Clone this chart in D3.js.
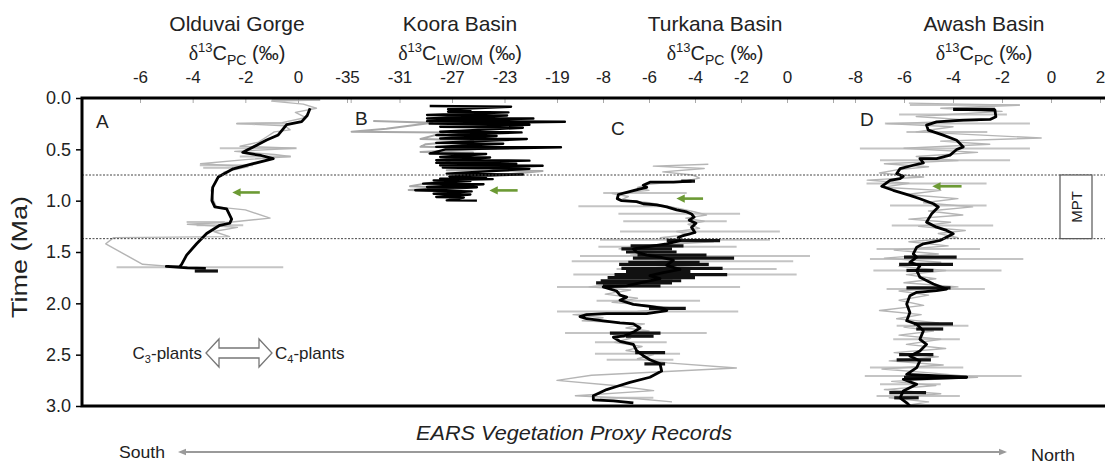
<!DOCTYPE html>
<html>
<head>
<meta charset="utf-8">
<script src="https://cdn.jsdelivr.net/npm/d3@7/dist/d3.min.js"></script>
<style>
  body { margin: 0; background: #fff; }
  text { font-family: "Liberation Sans", Arial, sans-serif; fill: #222; }
</style>
</head>
<body>
<div id="container"></div>
<script>
// ---- data (age in Ma, d13C in permil) ----
var siteNames = ["Olduvai Gorge", "Koora Basin", "Turkana Basin", "Awash Basin"];
var proxySubs = ["PC", "LW/OM", "PC", "PC"];
var panelLetters = ["A", "B", "C", "D"];
var timeTicks = [0, 0.5, 1, 1.5, 2, 2.5, 3];
var mptBounds = [0.75, 1.37];

var oldTicks = [-6, -4, -2, 0, 2];
var oldLabels = [-6, -4, -2, 0];
var kooraTicks = [-35, -31, -27, -23, -19];
var kooraLabels = [-35, -31, -27, -23, -19];
var turkTicks = [-8, -6, -4, -2, 0, 2];
var turkLabels = [-8, -6, -4, -2, 0];
var awashTicks = [-8, -6, -4, -2, 0, 2];
var awashLabels = [-8, -6, -4, -2, 0, 2];

// Olduvai
var oldSmooth = [[0.10,0.46],[0.17,0.35],[0.23,0.14],[0.26,-0.43],[0.36,-0.75],[0.41,-1.19],[0.46,-1.57],[0.51,-1.95],[0.53,-2.1],[0.56,-1.4],[0.59,-0.94],[0.64,-1.7],[0.69,-2.46],[0.77,-3.03],[0.87,-3.24],[1.0,-3.27],[1.06,-3.16],[1.08,-2.71],[1.18,-2.52],[1.22,-2.59],[1.24,-2.97],[1.32,-3.47],[1.42,-3.85],[1.53,-4.23],[1.62,-4.42],[1.645,-4.5],[1.64,-5.0],[1.655,-4.2],[1.66,-3.5]];
var oldRaw = [[0.02,0.84],[0.03,-1.0],[0.06,0.2],[0.10,0.7],[0.14,-0.1],[0.19,0.3],[0.24,-0.6],[0.25,-2.33],[0.27,-0.5],[0.31,-0.3],[0.33,-0.9],[0.38,-1.2],[0.43,-1.5],[0.47,-2.2],[0.49,-0.1],[0.52,-2.4],[0.55,-0.9],[0.57,-0.3],[0.60,-2.0],[0.64,-3.7],[0.67,-1.9],[0.72,-2.8],[0.80,-3.1],[0.90,-3.3],[1.00,-3.2],[1.06,-3.1],[1.09,-2.0],[1.17,-1.06],[1.21,-2.6],[1.23,-4.2],[1.26,-2.3],[1.30,-3.2],[1.35,-2.6],[1.36,-7.0],[1.42,-7.3],[1.52,-6.6],[1.62,-5.9],[1.645,-4.6]];
var oldBars = [[0.02,-1.0,0.84],[0.248,-2.33,-0.43],[0.49,-2.97,-0.05],[0.57,-2.21,-0.27],[0.655,-3.73,-1.70],[0.68,-3.6,-2.46],[1.209,-4.23,-2.78],[1.24,-3.85,-2.08],[1.649,-6.89,-0.56]];
var oldBlackBars = [[1.685,-3.92,-3.04]];

// Koora
var kooraBlack = [[0.078,-28.7],[0.085,-22.5],[0.11,-27.3],[0.12,-25.6],[0.134,-27.3],[0.14,-22.7],[0.166,-28.9],[0.17,-22.8],[0.199,-28.9],[0.2,-20.8],[0.225,-28.9],[0.232,-18.4],[0.25,-28.7],[0.26,-21.1],[0.28,-27.9],[0.29,-21.6],[0.329,-27.9],[0.335,-21.7],[0.362,-28.2],[0.37,-23.6],[0.394,-27.9],[0.40,-21.3],[0.437,-28.2],[0.445,-23.1],[0.476,-28.2],[0.48,-18.7],[0.50,-27.5],[0.541,-28.7],[0.545,-24.4],[0.574,-27.9],[0.58,-24.1],[0.606,-28.2],[0.61,-21.1],[0.632,-28.2],[0.64,-22.1],[0.655,-27.9],[0.66,-20.1],[0.678,-27.7],[0.69,-21.1],[0.737,-27.4],[0.745,-21.6],[0.763,-27.2],[0.77,-24.4],[0.785,-27.9],[0.79,-23.9],[0.802,-28.4],[0.81,-25.6],[0.834,-29.2],[0.84,-24.6],[0.867,-28.9],[0.87,-25.1],[0.899,-29.8],[0.91,-25.5],[0.932,-28.4],[0.94,-25.6],[0.964,-28.2],[0.97,-26.1],[0.997,-27.4],[1.0,-25.1]];
var kooraGray = [[0.225,-33.0],[0.24,-28.5],[0.30,-32.0],[0.329,-34.65],[0.335,-27.5],[0.40,-29.4],[0.411,-25.4],[0.45,-29.0],[0.476,-29.4],[0.49,-23.6],[0.525,-29.4],[0.53,-25.4],[0.60,-27.0],[0.655,-27.9],[0.66,-20.1],[0.704,-27.4],[0.71,-20.1],[0.80,-27.5],[0.86,-30.2],[0.875,-26.9],[0.895,-30.3],[0.91,-27.0]];

// Turkana
var turkSmooth = [[0.81,-4.15],[0.82,-4.94],[0.82,-5.96],[0.85,-6.25],[0.87,-6.10],[0.89,-6.47],[0.92,-6.97],[0.94,-7.33],[0.98,-7.38],[1.00,-7.19],[1.01,-6.54],[1.03,-6.25],[1.04,-5.67],[1.06,-5.23],[1.09,-4.80],[1.11,-4.36],[1.13,-4.15],[1.16,-4.04],[1.19,-4.25],[1.22,-3.96],[1.26,-4.15],[1.31,-4.0],[1.34,-4.51],[1.36,-4.73],[1.39,-4.65],[1.42,-5.23],[1.45,-6.10],[1.47,-6.68],[1.50,-6.54],[1.53,-6.10],[1.55,-5.52],[1.58,-4.94],[1.63,-5.23],[1.67,-4.65],[1.70,-5.38],[1.73,-5.96],[1.76,-5.52],[1.80,-6.39],[1.83,-6.97],[1.84,-7.99],[1.88,-7.41],[1.92,-7.26],[1.94,-6.97],[1.97,-7.26],[2.01,-6.68],[2.03,-5.96],[2.05,-5.38],[2.07,-5.23],[2.10,-6.10],[2.10,-7.12],[2.10,-7.84],[2.11,-8.71],[2.13,-9.0],[2.15,-8.71],[2.17,-7.99],[2.19,-7.26],[2.20,-6.68],[2.24,-6.39],[2.28,-6.68],[2.32,-7.12],[2.33,-7.55],[2.37,-7.26],[2.40,-6.68],[2.46,-6.54],[2.51,-6.25],[2.55,-5.96],[2.59,-5.52],[2.66,-5.45],[2.72,-5.96],[2.77,-6.83],[2.81,-7.41],[2.84,-7.84],[2.90,-8.42],[2.94,-8.42],[2.95,-7.55],[2.97,-6.68]];
var turkRaw = [[0.645,-3.42],[0.664,-5.81],[0.687,-3.6],[0.72,-5.4],[0.75,-4.1],[0.78,-3.8],[0.81,-4.5],[0.84,-6.0],[0.87,-6.5],[0.90,-6.0],[0.93,-7.6],[0.96,-6.9],[0.99,-7.2],[1.02,-6.0],[1.05,-5.3],[1.08,-4.6],[1.11,-4.0],[1.14,-3.5],[1.17,-4.4],[1.20,-3.6],[1.23,-4.3],[1.27,-3.8],[1.30,-4.8],[1.33,-4.2],[1.36,-5.5],[1.40,-3.2],[1.44,-6.5],[1.47,-7.3],[1.50,-5.5],[1.53,-6.8],[1.56,-4.3],[1.60,-6.0],[1.63,-4.0],[1.66,-6.3],[1.70,-4.5],[1.74,-6.8],[1.77,-5.0],[1.81,-7.5],[1.84,-8.6],[1.87,-6.8],[1.91,-7.9],[1.95,-6.5],[1.99,-7.6],[2.02,-6.0],[2.05,-4.8],[2.08,-6.5],[2.11,-9.3],[2.14,-8.0],[2.17,-8.9],[2.20,-6.2],[2.24,-7.0],[2.27,-6.0],[2.30,-7.6],[2.34,-6.8],[2.38,-7.5],[2.42,-6.3],[2.46,-7.0],[2.50,-5.8],[2.54,-6.5],[2.58,-5.2],[2.63,-2.2],[2.70,-8.5],[2.75,-10.0],[2.80,-7.5],[2.85,-5.8],[2.90,-9.2],[2.93,-6.5],[2.96,-5.0]];
var turkBars = [[0.925,-7.99,-4.36],[1.055,-9.07,-5.52],[1.127,-7.33,-2.04],[1.2,-7.12,-2.62],[1.3,-7.26,-0.31],[1.38,-8.13,-0.74],[1.45,-8.2,-2.19],[1.54,-9.0,1.0],[1.59,-9.36,0.27],[1.665,-7.41,-0.45],[1.72,-9.29,0.42],[1.84,-10.0,-2.04],[1.974,-8.28,-3.78],[2.08,-10.0,-2.12],[2.29,-9.65,-3.49],[2.38,-8.35,-5.23],[2.49,-8.35,-4.65],[2.55,-7.84,-4.94],[2.92,-8.13,-5.81]];
var turkBlackBars = [[0.81,-4.6,-4.0],[1.39,-5.23,-2.91],[1.44,-6.8,-4.5],[1.47,-7.2,-5.0],[1.50,-7.0,-4.8],[1.53,-6.5,-3.5],[1.56,-6.7,-2.3],[1.60,-6.9,-3.8],[1.62,-7.3,-3.4],[1.66,-7.2,-2.8],[1.69,-7.0,-4.2],[1.72,-7.5,-2.6],[1.75,-7.8,-4.0],[1.78,-8.1,-4.6],[1.80,-8.3,-5.0],[1.83,-8.0,-5.5],[2.05,-6.0,-4.4],[2.29,-7.7,-5.5],[2.32,-7.0,-5.8],[2.48,-6.6,-5.3],[2.59,-6.2,-5.3]];

// Awash
var awashSmooth = [[0.111,-3.99],[0.117,-2.29],[0.183,-2.25],[0.209,-2.49],[0.215,-3.58],[0.232,-4.67],[0.264,-5.08],[0.313,-5.01],[0.362,-4.40],[0.411,-3.85],[0.476,-3.58],[0.502,-3.85],[0.557,-4.12],[0.59,-4.67],[0.59,-5.35],[0.632,-5.21],[0.655,-5.62],[0.688,-6.16],[0.737,-6.30],[0.763,-6.03],[0.785,-6.16],[0.802,-6.57],[0.86,-6.91],[0.899,-6.44],[0.948,-5.76],[0.981,-5.35],[1.03,-4.80],[1.062,-4.60],[1.128,-4.87],[1.209,-5.08],[1.258,-4.67],[1.29,-4.26],[1.323,-3.99],[1.388,-4.53],[1.42,-5.21],[1.453,-5.48],[1.519,-5.62],[1.551,-5.48],[1.60,-5.76],[1.633,-5.35],[1.681,-5.48],[1.747,-5.35],[1.812,-4.80],[1.861,-4.26],[1.877,-4.67],[1.893,-5.48],[1.926,-5.76],[2.007,-5.89],[2.089,-5.76],[2.17,-5.89],[2.203,-5.48],[2.268,-5.21],[2.35,-5.35],[2.399,-5.08],[2.464,-5.35],[2.513,-5.76],[2.561,-5.35],[2.626,-5.48],[2.692,-5.89],[2.72,-3.44],[2.74,-6.03],[2.789,-5.48],[2.855,-6.03],[2.92,-6.16],[2.969,-5.89],[3.0,-5.76]];
var awashRaw = [[0.05,-5.8],[0.07,-1.3],[0.10,-4.5],[0.13,-2.0],[0.18,-5.5],[0.22,-3.0],[0.25,-6.7],[0.28,-4.0],[0.33,-5.5],[0.39,-0.4],[0.42,-4.5],[0.45,-2.5],[0.49,-6.0],[0.53,-3.0],[0.57,-5.5],[0.61,-3.8],[0.64,-6.8],[0.67,-5.0],[0.70,-6.3],[0.73,-7.0],[0.77,-5.2],[0.80,-7.5],[0.83,-5.8],[0.87,-6.9],[0.90,-4.5],[0.94,-5.9],[0.98,-3.8],[1.02,-5.2],[1.06,-3.2],[1.10,-5.0],[1.14,-3.6],[1.18,-5.8],[1.21,-4.1],[1.25,-5.4],[1.29,-3.5],[1.32,-4.6],[1.36,-3.8],[1.40,-5.8],[1.44,-4.2],[1.48,-6.4],[1.52,-4.6],[1.56,-6.8],[1.60,-4.5],[1.64,-6.2],[1.68,-4.3],[1.72,-5.9],[1.76,-4.7],[1.80,-6.0],[1.84,-3.8],[1.88,-6.2],[1.92,-5.0],[1.97,-6.2],[2.02,-5.2],[2.07,-7.0],[2.11,-5.3],[2.15,-6.3],[2.19,-4.6],[2.23,-6.0],[2.27,-4.8],[2.31,-6.2],[2.35,-4.5],[2.40,-5.9],[2.44,-4.3],[2.48,-6.4],[2.52,-4.6],[2.56,-6.6],[2.60,-4.4],[2.64,-6.9],[2.68,-4.8],[2.72,-3.0],[2.76,-6.5],[2.80,-4.7],[2.84,-6.8],[2.88,-4.5],[2.92,-6.6],[2.96,-5.0],[3.0,-6.0]];
var awashBars = [[0.069,-5.76,-1.27],[0.16,-6.2,-1.8],[0.248,-6.78,-0.86],[0.33,-5.9,-2.6],[0.492,-7.8,-0.86],[0.606,-6.98,-1.67],[0.834,-7.53,-2.63],[1.046,-6.57,-2.63],[1.242,-6.50,-2.36],[1.47,-7.12,-2.90],[1.567,-7.39,-1.13],[1.681,-7.25,-2.02],[1.861,-6.71,-2.70],[2.219,-6.30,-3.37],[2.35,-6.44,-3.72],[2.626,-7.39,-3.58],[2.708,-7.6,-1.2],[2.789,-6.98,-4.5],[2.903,-7.12,-3.72]];
var awashBlackBars = [[0.111,-3.99,-2.29],[1.55,-6.0,-3.85],[1.62,-6.2,-4.0],[1.68,-5.9,-4.8],[1.85,-5.9,-4.1],[2.2,-5.6,-4.0],[2.25,-5.5,-4.4],[2.5,-6.2,-4.8],[2.55,-6.3,-4.9],[2.72,-6.0,-3.44],[2.87,-6.6,-5.1],[2.92,-6.4,-5.4]];

// green arrows: [age, tip value, tail value]
var oldArrow = [0.92, -2.47, -1.45];
var kooraArrow = [0.90, -24.1, -22.0];
var turkArrow = [0.98, -4.78, -3.65];
var awashArrow = [0.86, -4.82, -3.65];

// ---- layout ----
var width = 1105, height = 464;
var frameLeft = 82, frameTop = 98, frameBottom = 406, frameRight = 1105;

var svg = d3.select("#container").append("svg")
  .attr("width", width).attr("height", height);

var y = d3.scaleLinear().domain([0, 3]).range([frameTop, frameBottom]);

var panels = [
  { x: d3.scaleLinear().domain([-6, 0]).range([140, 298]), ticks: oldTicks, labels: oldLabels,
    smooth: oldSmooth, raw: [oldRaw], bars: oldBars, blackBars: oldBlackBars, arrow: oldArrow,
    titleX: 237, letterPos: [96, 128] },
  { x: d3.scaleLinear().domain([-35, -19]).range([347, 557]), ticks: kooraTicks, labels: kooraLabels,
    smooth: kooraBlack, raw: [kooraGray], bars: [], blackBars: [], arrow: kooraArrow,
    titleX: 460, letterPos: [355, 125], smoothWidth: 2.4 },
  { x: d3.scaleLinear().domain([-8, 0]).range([603, 787]), ticks: turkTicks, labels: turkLabels,
    smooth: turkSmooth, raw: [turkRaw], bars: turkBars, blackBars: turkBlackBars, arrow: turkArrow,
    titleX: 715, letterPos: [611, 135] },
  { x: d3.scaleLinear().domain([-8, 2]).range([855, 1100]), ticks: awashTicks, labels: awashLabels,
    smooth: awashSmooth, raw: [awashRaw], bars: awashBars, blackBars: awashBlackBars, arrow: awashArrow,
    titleX: 984, letterPos: [860, 126] }
];

var defs = svg.append("defs");
defs.append("marker")
  .attr("id", "greenHead").attr("viewBox", "0 0 10 10")
  .attr("refX", 2).attr("refY", 5)
  .attr("markerWidth", 3.2).attr("markerHeight", 3.2).attr("orient", "auto")
  .append("path").attr("d", "M0,0 L10,5 L0,10 z").attr("fill", "#6c9a34");
defs.append("marker")
  .attr("id", "grayHead").attr("viewBox", "0 0 10 10")
  .attr("refX", 5).attr("refY", 5)
  .attr("markerWidth", 4).attr("markerHeight", 4).attr("orient", "auto-start-reverse")
  .append("path").attr("d", "M0,1 L10,5 L0,9 z").attr("fill", "#9a9a9a");

panels.forEach(function (p, i) {
  var line = d3.line().x(function (d) { return p.x(d[1]); }).y(function (d) { return y(d[0]); });
  var g = svg.append("g");

  // gray range bars
  g.selectAll(".bar").data(p.bars).enter().append("line")
    .attr("x1", function (d) { return p.x(d[1]); })
    .attr("x2", function (d) { return p.x(d[2]); })
    .attr("y1", function (d) { return y(d[0]); })
    .attr("y2", function (d) { return y(d[0]); })
    .attr("stroke", "#c4c4c4").attr("stroke-width", 2);

  p.raw.forEach(function (r) {
    g.append("path").datum(r).attr("d", line)
      .attr("fill", "none").attr("stroke", i == 1 ? "#a8a8a8" : "#b5b5b5")
      .attr("stroke-width", i == 1 ? 2 : 1.4).attr("stroke-linejoin", "round");
  });

  g.selectAll(".bbar").data(p.blackBars).enter().append("line")
    .attr("x1", function (d) { return p.x(d[1]); })
    .attr("x2", function (d) { return p.x(d[2]); })
    .attr("y1", function (d) { return y(d[0]); })
    .attr("y2", function (d) { return y(d[0]); })
    .attr("stroke", "#111").attr("stroke-width", 3.2);

  g.append("path").datum(p.smooth).attr("d", line)
    .attr("fill", "none").attr("stroke", "#000")
    .attr("stroke-width", p.smoothWidth || 2.8).attr("stroke-linejoin", "round");

  // top axis
  var ax = d3.axisTop(p.x).tickValues(p.ticks).tickSizeInner(-5).tickSizeOuter(0).tickPadding(15)
    .tickFormat(function (d) { return p.labels.indexOf(d) >= 0 ? d : ""; });
  var axg = svg.append("g").attr("transform", "translate(0," + frameTop + ")").call(ax);
  axg.select(".domain").remove();
  axg.selectAll(".tick line").attr("stroke", "#aaa");
  axg.selectAll(".tick text").attr("font-size", 17).attr("fill", "#222")
    .attr("font-family", "Liberation Sans, Arial, sans-serif");

  // titles
  svg.append("text").attr("x", p.titleX).attr("y", 31).attr("text-anchor", "middle")
    .attr("font-size", 21).text(siteNames[i]);
  var t2 = svg.append("text").attr("x", p.titleX).attr("y", 60).attr("text-anchor", "middle")
    .attr("font-size", 20);
  t2.append("tspan").attr("font-family", "Liberation Serif, Times New Roman, serif").text("δ");
  t2.append("tspan").attr("font-size", 13).attr("dy", -8).text("13");
  t2.append("tspan").attr("dy", 8).text("C");
  t2.append("tspan").attr("font-size", 14).attr("dy", 5).text(proxySubs[i]);
  t2.append("tspan").attr("dy", -5).text(" (‰)");

  svg.append("text").attr("x", p.letterPos[0]).attr("y", p.letterPos[1])
    .attr("font-size", 19).text(panelLetters[i]);

  // green arrow
  svg.append("line")
    .attr("x1", p.x(p.arrow[2])).attr("x2", p.x(p.arrow[1]) + 6)
    .attr("y1", y(p.arrow[0])).attr("y2", y(p.arrow[0]))
    .attr("stroke", "#6c9a34").attr("stroke-width", 2.6)
    .attr("marker-end", "url(#greenHead)");
});

// MPT dashed lines and box
svg.selectAll(".mpt").data(mptBounds).enter().append("line")
  .attr("x1", frameLeft).attr("x2", frameRight)
  .attr("y1", function (d) { return y(d); }).attr("y2", function (d) { return y(d); })
  .attr("stroke", "#444").attr("stroke-width", 1).attr("stroke-dasharray", "2,1.5");
svg.append("rect").attr("x", 1060).attr("y", y(mptBounds[0]))
  .attr("width", 32).attr("height", y(mptBounds[1]) - y(mptBounds[0]))
  .attr("fill", "#fff").attr("stroke", "#555").attr("stroke-width", 1.2);
svg.append("text").attr("transform", "translate(1082," + (y(mptBounds[0]) + y(mptBounds[1])) / 2 + ") rotate(-90)")
  .attr("text-anchor", "middle").attr("font-size", 15).text("MPT");

// frame
svg.append("path")
  .attr("d", "M" + frameRight + "," + frameTop + "H" + frameLeft + "V" + frameBottom + "H" + frameRight)
  .attr("fill", "none").attr("stroke", "#000").attr("stroke-width", 3);

// y axis
var yAxis = d3.axisLeft(y).tickValues(timeTicks).tickSizeInner(5).tickSizeOuter(0).tickPadding(5)
  .tickFormat(d3.format(".1f"));
var yg = svg.append("g").attr("transform", "translate(" + (frameLeft - 1) + ",0)").call(yAxis);
yg.select(".domain").remove();
yg.selectAll(".tick line").attr("stroke", "#000").attr("stroke-width", 1.5);
yg.selectAll(".tick text").attr("font-size", 18).attr("fill", "#222")
  .attr("font-family", "Liberation Sans, Arial, sans-serif");

svg.append("text").attr("transform", "translate(27,257) rotate(-90)")
  .attr("text-anchor", "middle").attr("font-size", 22)
  .attr("textLength", 122).attr("lengthAdjust", "spacingAndGlyphs").text("Time (Ma)");

// C3 / C4 legend
var lg = svg.append("g");
var c3 = lg.append("text").attr("x", 202).attr("y", 359).attr("text-anchor", "end").attr("font-size", 17).attr("fill", "#333");
c3.append("tspan").text("C");
c3.append("tspan").attr("font-size", 11).attr("dy", 4).text("3");
c3.append("tspan").attr("dy", -4).text("-plants");
var c4 = lg.append("text").attr("x", 275).attr("y", 359).attr("font-size", 17).attr("fill", "#333");
c4.append("tspan").text("C");
c4.append("tspan").attr("font-size", 11).attr("dy", 4).text("4");
c4.append("tspan").attr("dy", -4).text("-plants");
var ax0 = 206, ax1 = 272, acy = 353, hw = 14, sw = 5, hl = 13;
lg.append("path")
  .attr("d", "M" + ax0 + "," + acy + " L" + (ax0 + hl) + "," + (acy - hw) + " L" + (ax0 + hl) + "," + (acy - sw) +
    " L" + (ax1 - hl) + "," + (acy - sw) + " L" + (ax1 - hl) + "," + (acy - hw) + " L" + ax1 + "," + acy +
    " L" + (ax1 - hl) + "," + (acy + hw) + " L" + (ax1 - hl) + "," + (acy + sw) + " L" + (ax0 + hl) + "," + (acy + sw) +
    " L" + (ax0 + hl) + "," + (acy + hw) + " Z")
  .attr("fill", "#fff").attr("stroke", "#777").attr("stroke-width", 1.3);

// bottom caption
svg.append("text").attr("x", 574).attr("y", 440).attr("text-anchor", "middle")
  .attr("font-size", 21).attr("font-style", "italic").attr("fill", "#333")
  .attr("textLength", 316).attr("lengthAdjust", "spacingAndGlyphs")
  .text("EARS Vegetation Proxy Records");
svg.append("text").attr("x", 119).attr("y", 458).attr("font-size", 17).attr("fill", "#333")
  .attr("textLength", 46).attr("lengthAdjust", "spacingAndGlyphs").text("South");
svg.append("text").attr("x", 1031).attr("y", 461).attr("font-size", 17).attr("fill", "#333")
  .attr("textLength", 44).attr("lengthAdjust", "spacingAndGlyphs").text("North");
svg.append("line").attr("x1", 182).attr("x2", 1003).attr("y1", 452).attr("y2", 452)
  .attr("stroke", "#9a9a9a").attr("stroke-width", 2)
  .attr("marker-start", "url(#grayHead)").attr("marker-end", "url(#grayHead)");
</script>
</body>
</html>
